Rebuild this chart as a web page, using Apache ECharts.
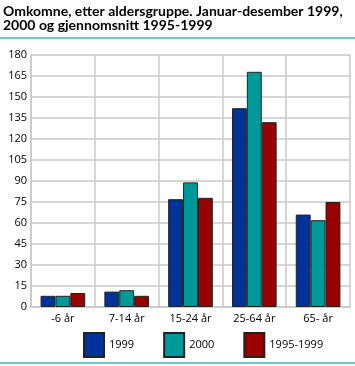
<!DOCTYPE html>
<html><head><meta charset="utf-8">
<script src="https://cdn.jsdelivr.net/npm/echarts@6/dist/echarts.min.js"></script>
<style>html,body{margin:0;padding:0;background:#fff}#c{width:355px;height:366px}</style>
</head><body><div id="c"></div>
<script>
const titleText = "Omkomne, etter aldersgruppe. Januar-desember 1999,\n2000 og gjennomsnitt 1995-1999";
const categories = ["-6 år", "7-14 år", "15-24 år", "25-64 år", "65- år"];
const seriesNames = ["1999", "2000", "1995-1999"];
const values1999 = [8, 11, 77, 142, 66];
const values2000 = [8, 12, 89, 168, 62];
const values9599 = [10, 8, 78, 132, 75];
const yTicks = [0, 15, 30, 45, 60, 75, 90, 105, 120, 135, 150, 165, 180];
const colors = ["#003399", "#009999", "#990000"];

const chart = echarts.init(document.getElementById('c'), null, {renderer: 'canvas'});
const font = "Open Sans";
const mk = (name, data, color) => ({
  name, type: 'bar', data, barGap: '0%', barCategoryGap: '30%',
  itemStyle: {color, borderColor: '#222', borderWidth: 1},
  animation: false
});
chart.setOption({
  animation: false,
  title: {
    text: titleText, left: 3, top: 4, padding: 0,
    textStyle: {fontFamily: 'Lato', fontWeight: 'bold', fontSize: 14, color: '#000', lineHeight: 14.5}
  },
  graphic: [
    {type: 'rect', shape: {x: 0, y: 37, width: 355, height: 2}, style: {fill: '#66cccc'}},
    {type: 'rect', shape: {x: 0, y: 362, width: 355, height: 2}, style: {fill: '#66cccc'}}
  ],
  legend: {
    left: 83, top: 332, padding: 0, itemWidth: 20, itemHeight: 24, itemGap: 29,
    icon: 'rect',
    textStyle: {fontFamily: font, fontSize: 11, color: '#000'},
    data: seriesNames
  },
  grid: {left: 31, right: 5, top: 55, bottom: 59, containLabel: false},
  xAxis: {
    type: 'category', data: categories,
    axisLine: {lineStyle: {color: '#c8c8c8', width: 1.5}},
    axisTick: {show: false},
    splitLine: {show: true, lineStyle: {color: '#c8c8c8', width: 1.5}},
    axisLabel: {fontFamily: font, fontSize: 11, color: '#000', margin: 6}
  },
  yAxis: {
    type: 'value', min: yTicks[0], max: yTicks[yTicks.length - 1], interval: 15,
    axisLine: {show: true, lineStyle: {color: '#c8c8c8', width: 1.5}},
    axisTick: {show: false},
    splitLine: {show: true, lineStyle: {color: '#c8c8c8', width: 1.5}},
    axisLabel: {fontFamily: font, fontSize: 11, color: '#000', margin: 4}
  },
  series: [mk(seriesNames[0], values1999, colors[0]), mk(seriesNames[1], values2000, colors[1]), mk(seriesNames[2], values9599, colors[2])]
});
</script></body></html>
